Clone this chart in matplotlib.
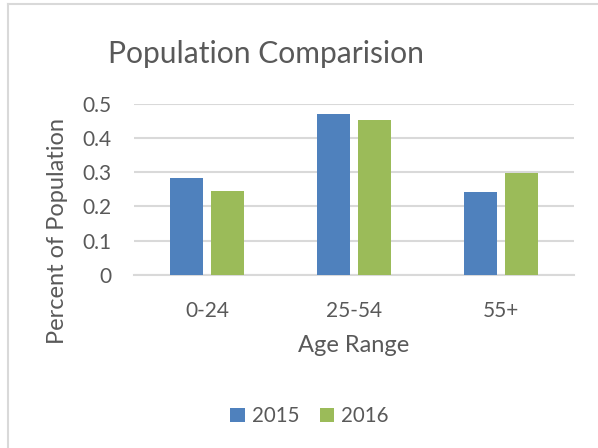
import matplotlib
matplotlib.use("Agg")
import matplotlib.pyplot as plt
import numpy as np

categories = ["0-24", "25-54", "55+"]
values_2015 = [0.283, 0.469, 0.242]
values_2016 = [0.245, 0.452, 0.297]
series_names = ["2015", "2016"]
yticks = [0, 0.1, 0.2, 0.3, 0.4, 0.5]
ytick_labels = ["0", "0.1", "0.2", "0.3", "0.4", "0.5"]

plt.rcParams['font.family'] = ['Lato', 'DejaVu Sans']
text_color = "#595959"
grid_color = "#D9D9D9"
blue = "#4F81BD"
green = "#9BBB59"

W, H = 598, 448
fig = plt.figure(figsize=(W/100, H/100), dpi=100)
ax = fig.add_axes([134/W, 1-275/H, (574-134)/W, (275-103.7)/H])

x = np.arange(len(categories))
w = 0.225
off = 0.14
ax.bar(x - off, values_2015, w, color=blue, label=series_names[0], zorder=3)
ax.bar(x + off, values_2016, w, color=green, label=series_names[1], zorder=3)

ax.set_xlim(-0.5, 2.5)
ax.set_ylim(0, 0.5)
ax.set_yticks(yticks)
ax.set_yticklabels(ytick_labels)
ax.set_xticks(x)
ax.set_xticklabels(categories)
ax.yaxis.grid(True, color=grid_color, linewidth=1.5, zorder=0)
for s in ["top", "right", "left"]:
    ax.spines[s].set_visible(False)
ax.spines["bottom"].set_color(grid_color)
ax.spines["bottom"].set_linewidth(1.5)
ax.tick_params(axis="both", length=0, labelsize=15, colors=text_color)
ax.tick_params(axis="y", pad=16)
ax.tick_params(axis="x", pad=19)

fig.text(354/W, 1-352/H, "Age Range", fontsize=17, color=text_color,
         ha="center", va="baseline")
fig.text(58/W, 1-231/H, "Percent of Population", fontsize=17, color=text_color,
         ha="center", va="center", rotation=90)

fig.text(266.5/W, 1-63/H, "Population Comparision", fontsize=21.6, color=text_color,
         ha="center", va="baseline")

fig.legend(loc="center", bbox_to_anchor=(309.5/W, 1-416/H), ncol=2, frameon=False,
           fontsize=14.8, labelcolor=text_color, handlelength=0.7, handleheight=0.7,
           columnspacing=1.0, handletextpad=0.35)

# outer chart border (left and top visible)
fig.add_artist(plt.Line2D([7.5/W, 7.5/W], [0, 1-4.5/H], transform=fig.transFigure,
                          color=grid_color, linewidth=1.5))
fig.add_artist(plt.Line2D([7.5/W, 1], [1-4.5/H, 1-4.5/H], transform=fig.transFigure,
                          color=grid_color, linewidth=1.5))

fig.savefig("out.png", dpi=100)
